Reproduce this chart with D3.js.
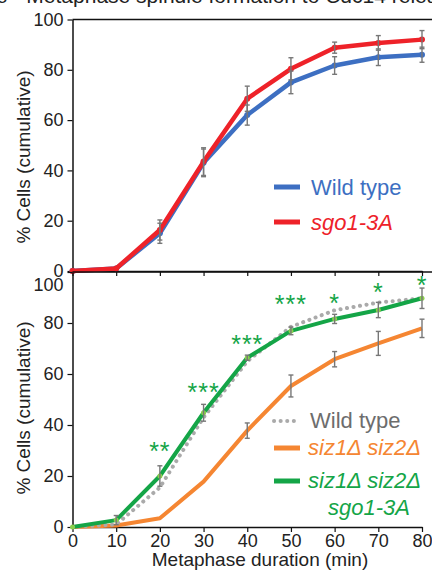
<!DOCTYPE html>
<html>
<head>
<meta charset="utf-8">
<script src="https://cdn.jsdelivr.net/npm/d3@7"></script>
<style>
  body { margin: 0; background: #fff; }
  svg { display: block; font-family: "Liberation Sans", Arial, sans-serif; }
</style>
</head>
<body>
<svg id="chart" width="432" height="576"></svg>
<script>
// minutes after spindle formation
var aMinutes = [0, 10, 20, 30, 40, 50, 60, 70, 80];
var aYTicks = [0, 20, 40, 60, 80, 100];

// top panel
var aWildType = [0, 1, 15, 43, 62, 75, 81.7, 85, 86];
var aWildTypeErr = [0, 0.5, 4, 5.5, 4, 4.5, 3.5, 3.3, 3];
var aSgo1 = [0, 1, 16.3, 43.5, 68.5, 80.4, 88.8, 90.7, 92];
var aSgo1Err = [0, 0.5, 4, 5.5, 5, 4.4, 2.2, 2.9, 3.6];

// bottom panel
var aWildType2 = [0, 1, 15.5, 43, 65, 78.5, 85, 88, 89.7];
var aSiz = [0, 0.6, 3.4, 17.8, 37.8, 55.3, 65.8, 72, 77.9];
var aSizErr = [0, 0, 0, 0, 3, 4.3, 3, 4.7, 3.6];
var aSizSgo1 = [0, 2.7, 20, 44.8, 66.4, 76.9, 81.6, 85.1, 89.7];
var aSizSgo1Err = [0, 1.8, 4, 3.3, 1, 1.5, 1.8, 3, 4];

// significance marks above the green curve
var aStarMinutes = [20, 30, 40, 50, 60, 70, 80];
var aStarLabels = ["**", "***", "***", "***", "*", "*", "*"];
var aStarLevels = [31.8, 55, 73.7, 89.4, 89.8, 94.2, 97];

var cBlue = "#3d6fc2", cRed = "#ee2229", cOrange = "#f58632",
    cGreen = "#14a547", cLightGreen = "#8ccf4d", cGrey = "#aaaaaa", cErr = "#777777";

var svg = d3.select("#chart");

var x = d3.scaleLinear().domain([0, 80]).range([72.5, 422]);
var yTop = d3.scaleLinear().domain([0, 100]).range([271, 19.5]);
var yBot = d3.scaleLinear().domain([0, 100]).range([527, 272]);

// cut off heading at very top
svg.append("text").attr("x", -4).attr("y", 3).attr("font-size", 21).attr("fill", "#222")
  .text("e - Metaphase spindle formation to Cdc14 release");

function makeRows(aVals, aErr) {
  return aMinutes.map(function(m, i) {
    return { m: m, v: aVals[i], e: aErr ? aErr[i] : 0 };
  });
}

function drawFrame(y, bLabels) {
  // top border of the panel
  svg.append("line").attr("x1", x(0)).attr("x2", 432)
    .attr("y1", y(100)).attr("y2", y(100)).attr("stroke", "#111").attr("stroke-width", 1.5);

  var gy = svg.append("g").attr("transform", "translate(" + x(0) + ",0)")
    .call(d3.axisLeft(y).tickValues(aYTicks).tickSize(5).tickPadding(4).tickSizeOuter(0));
  var gx = svg.append("g").attr("transform", "translate(0," + y(0) + ")")
    .call(d3.axisBottom(x).tickValues(aMinutes).tickSize(5).tickPadding(2).tickSizeOuter(0)
      .tickFormat(bLabels ? d3.format("d") : ""));
  [gy, gx].forEach(function(g) {
    g.select(".domain").attr("stroke", "#111").attr("stroke-width", 1.5);
    g.selectAll(".tick line").attr("stroke", "#111").attr("stroke-width", 1.2);
    g.selectAll("text").attr("font-size", 18).attr("fill", "#222")
      .attr("font-family", "Liberation Sans, Arial, sans-serif");
  });
  return gy;
}

function drawErr(rows, y) {
  var g = svg.append("g").attr("stroke", cErr).attr("stroke-width", 1.4);
  rows.filter(function(d) { return d.e > 0.5; }).forEach(function(d) {
    var cx = x(d.m), y1 = y(d.v + d.e), y2 = y(d.v - d.e);
    g.append("line").attr("x1", cx).attr("x2", cx).attr("y1", y1).attr("y2", y2);
    g.append("line").attr("x1", cx - 2.5).attr("x2", cx + 2.5).attr("y1", y1).attr("y2", y1);
    g.append("line").attr("x1", cx - 2.5).attr("x2", cx + 2.5).attr("y1", y2).attr("y2", y2);
  });
}

function drawLine(rows, y, color, width, dash) {
  var line = d3.line().x(function(d) { return x(d.m); }).y(function(d) { return y(d.v); });
  var p = svg.append("path").datum(rows).attr("d", line).attr("fill", "none")
    .attr("stroke", color).attr("stroke-width", width).attr("stroke-linejoin", "round");
  if (dash) p.attr("stroke-dasharray", dash).attr("stroke-linecap", "round");
}

function drawDots(rows, y, color, r) {
  svg.append("g").selectAll("circle").data(rows).join("circle")
    .attr("cx", function(d) { return x(d.m); }).attr("cy", function(d) { return y(d.v); })
    .attr("r", r).attr("fill", color);
}

function yTitle(cy) {
  svg.append("text").attr("transform", "translate(30," + cy + ") rotate(-90)")
    .attr("text-anchor", "middle").attr("font-size", 19).attr("fill", "#222")
    .text("% Cells (cumulative)");
}

function legendItem(y0, color, dash) {
  var l = svg.append("line").attr("x1", 274).attr("x2", 300).attr("y1", y0).attr("y2", y0)
    .attr("stroke", color).attr("stroke-width", dash ? 4 : 5).attr("stroke-linecap", dash ? "round" : "butt");
  if (dash) l.attr("stroke-dasharray", dash);
}

// ---- top panel ----
drawFrame(yTop, false);
yTitle(157);
var rWT = makeRows(aWildType, aWildTypeErr), rSgo = makeRows(aSgo1, aSgo1Err);
drawLine(rWT, yTop, cBlue, 4.5);
drawDots(rWT, yTop, cBlue, 3);
drawLine(rSgo, yTop, cRed, 4.5);
drawDots(rSgo, yTop, cRed, 3);
drawErr(rWT, yTop);
drawErr(rSgo, yTop);

legendItem(187, cBlue);
svg.append("text").attr("x", 311).attr("y", 195).attr("font-size", 22).attr("fill", cBlue).text("Wild type");
legendItem(222, cRed);
svg.append("text").attr("x", 311).attr("y", 230).attr("font-size", 22).attr("font-style", "italic")
  .attr("fill", cRed).text("sgo1-3A");

// ---- bottom panel ----
var gyBot = drawFrame(yBot, true);
gyBot.selectAll(".tick text").filter(function(d) { return d === 100; }).attr("dy", "1.0em");
yTitle(408);
var rWT2 = makeRows(aWildType2), rSiz = makeRows(aSiz, aSizErr), rSS = makeRows(aSizSgo1, aSizSgo1Err);
drawLine(rSiz, yBot, cOrange, 4);
drawLine(rWT2, yBot, cGrey, 4, "0.1,6.5");
drawLine(rSS, yBot, cGreen, 4);
drawDots(rSS, yBot, cLightGreen, 2.5);
drawErr(rSiz, yBot);
drawErr(rSS, yBot);

svg.append("g").selectAll("text").data(aStarMinutes).join("text")
  .attr("x", function(d) { return x(d); })
  .attr("y", function(d, i) { return yBot(aStarLevels[i]) + 14; })
  .attr("text-anchor", "middle").attr("font-size", 25).attr("letter-spacing", 1).attr("fill", cGreen)
  .text(function(d, i) { return aStarLabels[i]; });

legendItem(421, cGrey, "0.1,6.5");
svg.append("text").attr("x", 310).attr("y", 428).attr("font-size", 22).attr("fill", "#6d6d6d").text("Wild type");
legendItem(448, cOrange);
svg.append("text").attr("x", 308).attr("y", 455).attr("font-size", 22).attr("font-style", "italic")
  .attr("fill", cOrange).text("siz1\u0394 siz2\u0394");
legendItem(481, cGreen);
svg.append("text").attr("x", 308).attr("y", 488).attr("font-size", 22).attr("font-style", "italic")
  .attr("fill", cGreen).text("siz1\u0394 siz2\u0394");
svg.append("text").attr("x", 328).attr("y", 515).attr("font-size", 22).attr("font-style", "italic")
  .attr("fill", cGreen).text("sgo1-3A");

// x axis title
svg.append("text").attr("x", 260).attr("y", 566).attr("text-anchor", "middle")
  .attr("font-size", 19).attr("fill", "#222").text("Metaphase duration  (min)");
</script>
</body>
</html>
